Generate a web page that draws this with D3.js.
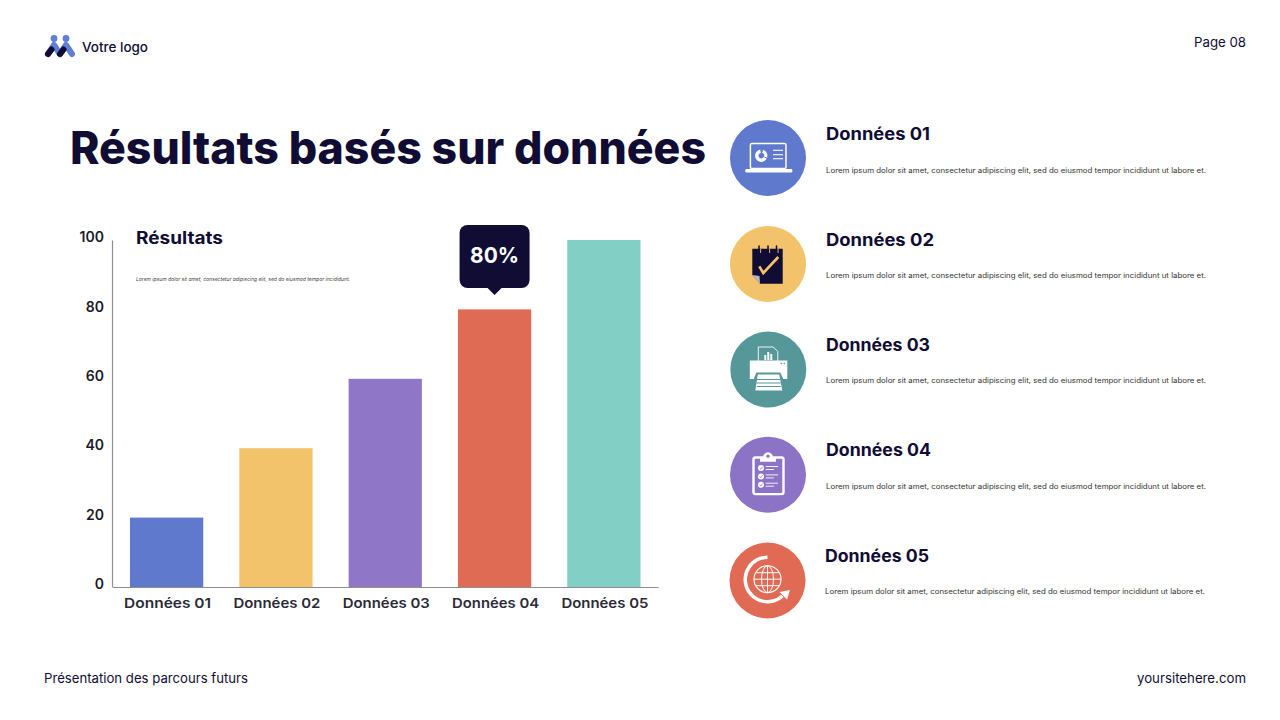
<!DOCTYPE html>
<html>
<head>
<meta charset="utf-8">
<script src="https://cdn.jsdelivr.net/npm/d3@7"></script>
<style>
  html, body { margin: 0; padding: 0; background: #fff; }
  svg { display: block; }
  text { font-family: Inter, "Open Sans", sans-serif; fill: #100c33; }
</style>
</head>
<body>
<svg id="chart" width="1280" height="720"></svg>
<script>
const categories = ["Données 01", "Données 02", "Données 03", "Données 04", "Données 05"]
const values = [20, 40, 60, 80, 100]
const yTicks = [0, 20, 40, 60, 80, 100]
const barColors = ["#5f79cd", "#f2c36b", "#8f76c6", "#e06b55", "#82cfc5"]
const iconColors = ["#5f79cd", "#f2c36b", "#56979a", "#8d73c6", "#e16a55"]
const lorem = "Lorem ipsum dolor sit amet, consectetur adipiscing elit, sed do eiusmod tempor incididunt ut labore et."
const loremShort = "Lorem ipsum dolor sit amet, consectetur adipiscing elit, sed do eiusmod tempor incididunt."
const calloutIndex = 3

const dark = "#100c33"
const svg = d3.select("#chart")

// text helper, width is forced to what the reference shows
const label = (parent, x, y, str, size, weight, width, anchor) => {
  const t = parent.append("text")
    .attr("x", x).attr("y", y)
    .attr("font-size", size)
    .attr("font-weight", weight)
    .attr("text-anchor", anchor || "start")
    .text(str)
  if (width) t.attr("textLength", width).attr("lengthAdjust", "spacingAndGlyphs")
  return t
}

// header and footer
const logo = svg.append("g").attr("fill", "none").attr("stroke-linecap", "round").attr("stroke-linejoin", "round").attr("stroke-width", 6)
logo.append("path").attr("d", "M48,54L54,45L60,54").attr("stroke", "#5f7fd6")
logo.append("path").attr("d", "M60,54L66,45L72,54").attr("stroke", "#5f7fd6")
logo.append("line").attr("x1", 48).attr("y1", 54).attr("x2", 51.5).attr("y2", 49.5).attr("stroke", dark)
logo.append("line").attr("x1", 60).attr("y1", 54).attr("x2", 63.5).attr("y2", 49.5).attr("stroke", dark)
logo.append("circle").attr("cx", 54).attr("cy", 38.5).attr("r", 3.4).attr("fill", "#5f7fd6").attr("stroke", "none")
logo.append("circle").attr("cx", 66).attr("cy", 38.5).attr("r", 3.4).attr("fill", "#5f7fd6").attr("stroke", "none")

label(svg, 82, 52, "Votre logo", 13, 500, 66)
label(svg, 1246, 47, "Page 08", 13, 400, 52, "end")
label(svg, 44, 683, "Présentation des parcours futurs", 13, 400, 204)
label(svg, 1246, 683, "yoursitehere.com", 13, 400, 109, "end")
label(svg, 70, 164, "Résultats basés sur données", 45, 800, 636)

// bar chart
const x = d3.scaleBand().domain(categories).range([112.5, 658]).paddingInner(0.33).paddingOuter(0.16)
const y = d3.scaleLinear().domain([0, 100]).range([587, 240])

svg.append("g").selectAll("rect")
  .data(values)
  .join("rect")
  .attr("x", (d, i) => x(categories[i]))
  .attr("y", (d) => y(d))
  .attr("width", x.bandwidth())
  .attr("height", (d) => y(0) - y(d))
  .attr("fill", (d, i) => barColors[i])

const yAxis = svg.append("g")
  .attr("transform", "translate(112,0)")
  .call(d3.axisLeft(y).tickValues(yTicks).tickSize(0).tickPadding(8))
yAxis.select(".domain").attr("stroke", "#8f8f8f").attr("stroke-width", 1.2)
yAxis.selectAll("text")
  .attr("dy", "0.12em")
  .style("font-family", "Inter")
  .style("font-size", "14px")
  .style("font-weight", 600)
  .style("fill", "#1a1a2a")

const xAxis = svg.append("g")
  .attr("transform", "translate(0,587)")
  .call(d3.axisBottom(x).tickSize(0).tickPadding(11))
xAxis.select(".domain").attr("stroke", "#8f8f8f").attr("stroke-width", 1.2)
xAxis.selectAll("text")
  .attr("dx", 1)
  .attr("textLength", 87)
  .attr("lengthAdjust", "spacingAndGlyphs")
  .style("font-family", "Inter")
  .style("font-size", "13.5px")
  .style("font-weight", 600)
  .style("fill", "#2a2a36")

label(svg, 136, 244, "Résultats", 17, 700, 87)
label(svg, 136, 281, loremShort, 5, 400, 214).attr("font-style", "italic").style("fill", "#444")

// callout over the highlighted bar
const cx = x(categories[calloutIndex]) + x.bandwidth() / 2
const callout = svg.append("g").attr("transform", `translate(${cx},0)`)
callout.append("rect").attr("x", -35).attr("y", 225).attr("width", 70).attr("height", 63).attr("rx", 8).attr("fill", dark)
callout.append("path").attr("d", "M-7,288L0,295L7,288Z").attr("fill", dark)
label(callout, 0, 263, values[calloutIndex] + "%", 22, 700, 49, "middle").style("fill", "#fff")

// list on the right
const rowsY = [158, 264, 369.5, 474.7, 580.5]
const rowsX = [768, 768, 768.3, 768, 767.5]
const titleY = [140, 246, 351, 456, 562]
const textX = [826, 826, 826, 826, 825]
const descY = [173, 278, 383, 489, 594]
const titleW = [104, 108, 104, 105, 104]

const laptop = (g) => {
  g.append("rect").attr("x", -17.6).attr("y", -14.5).attr("width", 35.6).attr("height", 25).attr("rx", 1.5)
    .attr("fill", "none").attr("stroke", "#fff").attr("stroke-width", 1.5)
  g.append("rect").attr("x", -22.7).attr("y", 11).attr("width", 47).attr("height", 3.4).attr("rx", 1.2).attr("fill", "#fff")
  const pie = d3.arc().innerRadius(2.8).outerRadius(6.2)
  ;[[0.3, 1.9], [2.1, 6.1]].forEach(([a0, a1]) => {
    g.append("path").attr("transform", "translate(-6.7,-2.3)")
      .attr("d", pie({ startAngle: a0, endAngle: a1 })).attr("fill", "#fff")
  })
  ;[-7.7, -3.3, 0.7].forEach((ly) => {
    g.append("line").attr("x1", 5).attr("x2", 15).attr("y1", ly).attr("y2", ly).attr("stroke", "#fff").attr("stroke-width", 1.1)
  })
}

const notepad = (g) => {
  g.append("path").attr("d", "M-15.7,-15.3H14.7V19.7H-8L-15.7,11Z").attr("fill", dark)
  g.append("path").attr("d", "M-15.7,11L-8,19.7L-8.5,12Z").attr("fill", "#fff").attr("opacity", 0.7)
  ;[-9, 0, 8.5].forEach((rx) => {
    g.append("line").attr("x1", rx).attr("x2", rx).attr("y1", -18).attr("y2", -10.5).attr("stroke", dark).attr("stroke-width", 1.5).attr("stroke-linecap", "round")
    g.append("line").attr("x1", rx + 1.6).attr("x2", rx + 1.6).attr("y1", -15.3).attr("y2", -11).attr("stroke", "#f2c36b").attr("stroke-width", 0.9)
  })
  g.append("path").attr("d", "M-8.7,2.3L-4.7,9L10.3,-7").attr("fill", "none").attr("stroke", "#f2c36b").attr("stroke-width", 2.6)
}

const printer = (g) => {
  g.append("path").attr("d", "M-10,-8V-22.5H5L9.5,-18V-8").attr("fill", "none").attr("stroke", "#fff").attr("stroke-width", 0.9)
  ;[[-4, 5], [-1, 8], [2, 6]].forEach(([bx, bh]) => {
    g.append("rect").attr("x", bx).attr("y", -9.5 - bh).attr("width", 2).attr("height", bh).attr("fill", "#fff")
  })
  g.append("rect").attr("x", -18.5).attr("y", -9).attr("width", 37.5).attr("height", 18.5).attr("fill", "#fff")
  g.append("path").attr("d", "M-14.5,9.5L-12,3H12L15,9.5Z").attr("fill", "#56979a")
  g.append("path").attr("d", "M-10.5,5H11L14,21H-13Z").attr("fill", "#fff")
  ;[10, 13.5, 17].forEach((ly) => {
    g.append("line").attr("x1", -11.5).attr("x2", 12.5).attr("y1", ly).attr("y2", ly).attr("stroke", "#56979a").attr("stroke-width", 1)
  })
  g.append("circle").attr("cx", 13).attr("cy", -6).attr("r", 0.8).attr("fill", "#56979a")
  g.append("circle").attr("cx", 16).attr("cy", -6).attr("r", 0.8).attr("fill", "#56979a")
}

const clipboard = (g) => {
  g.append("rect").attr("x", -14.5).attr("y", -17.2).attr("width", 30).attr("height", 36.6).attr("rx", 2)
    .attr("fill", "none").attr("stroke", "#fff").attr("stroke-width", 2.4)
  g.append("path").attr("d", "M-8,-13V-17H-5A5,5.5 0 0 1 5,-17H8V-13Z").attr("fill", "#fff")
  g.append("circle").attr("cy", -18.5).attr("r", 1.6).attr("fill", "#8d73c6")
  ;[-6.7, 1.7, 10].forEach((ly) => {
    g.append("circle").attr("cx", -7).attr("cy", ly).attr("r", 3).attr("fill", "#fff")
    g.append("path").attr("d", `M-8.4,${ly}L-7.2,${ly + 1.2}L-5.4,${ly - 1.2}`).attr("fill", "none").attr("stroke", "#8d73c6").attr("stroke-width", 0.8)
    g.append("line").attr("x1", -2.3).attr("x2", 10).attr("y1", ly - 1.5).attr("y2", ly - 1.5).attr("stroke", "#fff").attr("stroke-width", 0.9)
    g.append("line").attr("x1", -2.3).attr("x2", 6).attr("y1", ly + 1.5).attr("y2", ly + 1.5).attr("stroke", "#fff").attr("stroke-width", 0.9)
  })
}

const globe = (g) => {
  // open ring around the globe, plus its arrow head
  const ring = d3.arc().innerRadius(20.5).outerRadius(24)
  g.append("path").attr("transform", "translate(0,-1)")
    .attr("d", ring({ startAngle: 0, endAngle: -3.88 })).attr("fill", "#fff")
  g.append("path").attr("d", "M12,11.5L22.5,9.5L19.5,19Z").attr("fill", "#fff")
  const ball = g.append("g").attr("transform", "translate(0,-1.3)").attr("fill", "none").attr("stroke", "#fff")
  ball.append("circle").attr("r", 13.5).attr("stroke-width", 1.1)
  ball.append("ellipse").attr("rx", 6).attr("ry", 13.5).attr("stroke-width", 1)
  ball.append("line").attr("y1", -13.5).attr("y2", 13.5).attr("stroke-width", 1)
  ;[[-6.5, 11.8], [0, 13.5], [6.5, 11.8]].forEach(([ly, half]) => {
    ball.append("line").attr("x1", -half).attr("x2", half).attr("y1", ly).attr("y2", ly).attr("stroke-width", 1)
  })
}

const icons = [laptop, notepad, printer, clipboard, globe]

categories.forEach((name, i) => {
  const g = svg.append("g").attr("transform", `translate(${rowsX[i]},${rowsY[i]})`)
  g.append("circle").attr("r", 38).attr("fill", iconColors[i])
  icons[i](g)
  label(svg, textX[i], titleY[i], name, 17, 700, titleW[i])
  label(svg, textX[i], descY[i], lorem, 7.2, 400, 380).style("fill", "#333")
})
</script>
</body>
</html>
